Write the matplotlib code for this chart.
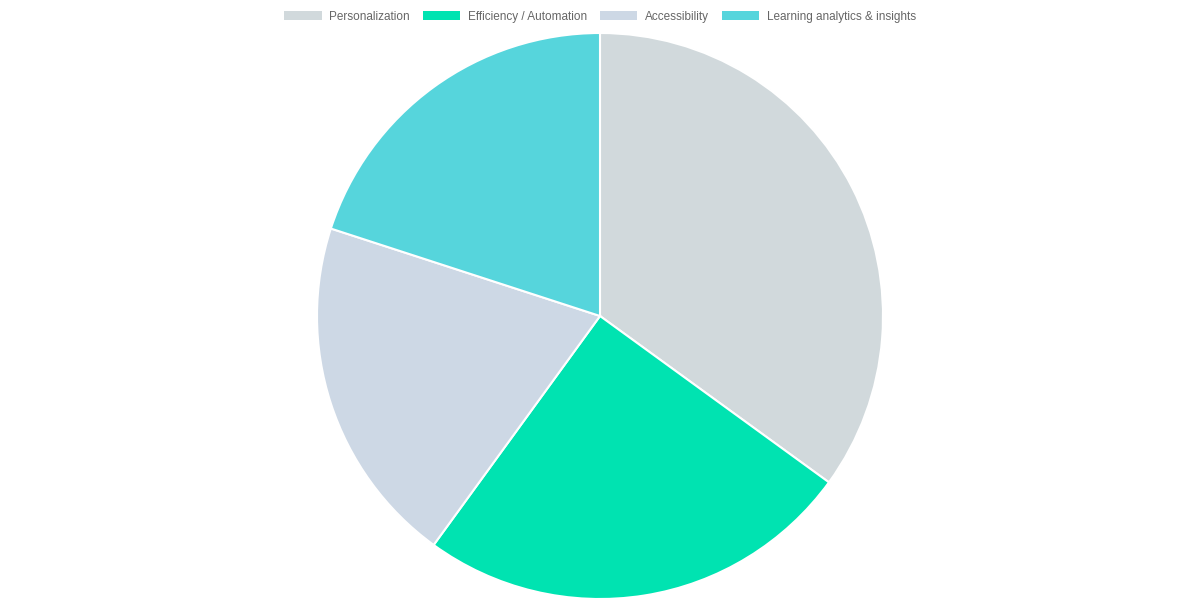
import matplotlib.pyplot as plt
from matplotlib.patches import Patch

plt.rcParams['font.family'] = ['Liberation Sans', 'DejaVu Sans']

labels = ['Personalization', 'Efficiency / Automation', 'Accessibility',
          'Learning analytics & insights']
shares = [35, 25, 20, 20]
colors = ['#d1d9dc', '#00e3b1', '#cdd8e5', '#56d5dc']

fig = plt.figure(figsize=(12, 6), dpi=100)

# square axes centred on the pie (center ~ (600, 316) px, radius ~283 px)
r_px = 283
ax = fig.add_axes([(600 - r_px) / 1200, (600 - 316 - r_px) / 600,
                   2 * r_px / 1200, 2 * r_px / 600])
ax.pie(shares, colors=colors, startangle=90, counterclock=False, radius=1,
       wedgeprops=dict(edgecolor='white', linewidth=1.5))
ax.set_xlim(-1, 1)
ax.set_ylim(-1, 1)
ax.set_aspect('equal')
ax.axis('off')

handles = [Patch(facecolor=c, edgecolor='none', label=l) for c, l in zip(colors, labels)]
fig.legend(handles=handles, loc='upper center', bbox_to_anchor=(0.5, 0.996),
           ncol=4, frameon=False, fontsize=8.5, labelcolor='#666666',
           handlelength=3.15, handleheight=0.85, handletextpad=0.65,
           columnspacing=1.1, borderaxespad=0.3)

fig.savefig('out.png', dpi=100)
